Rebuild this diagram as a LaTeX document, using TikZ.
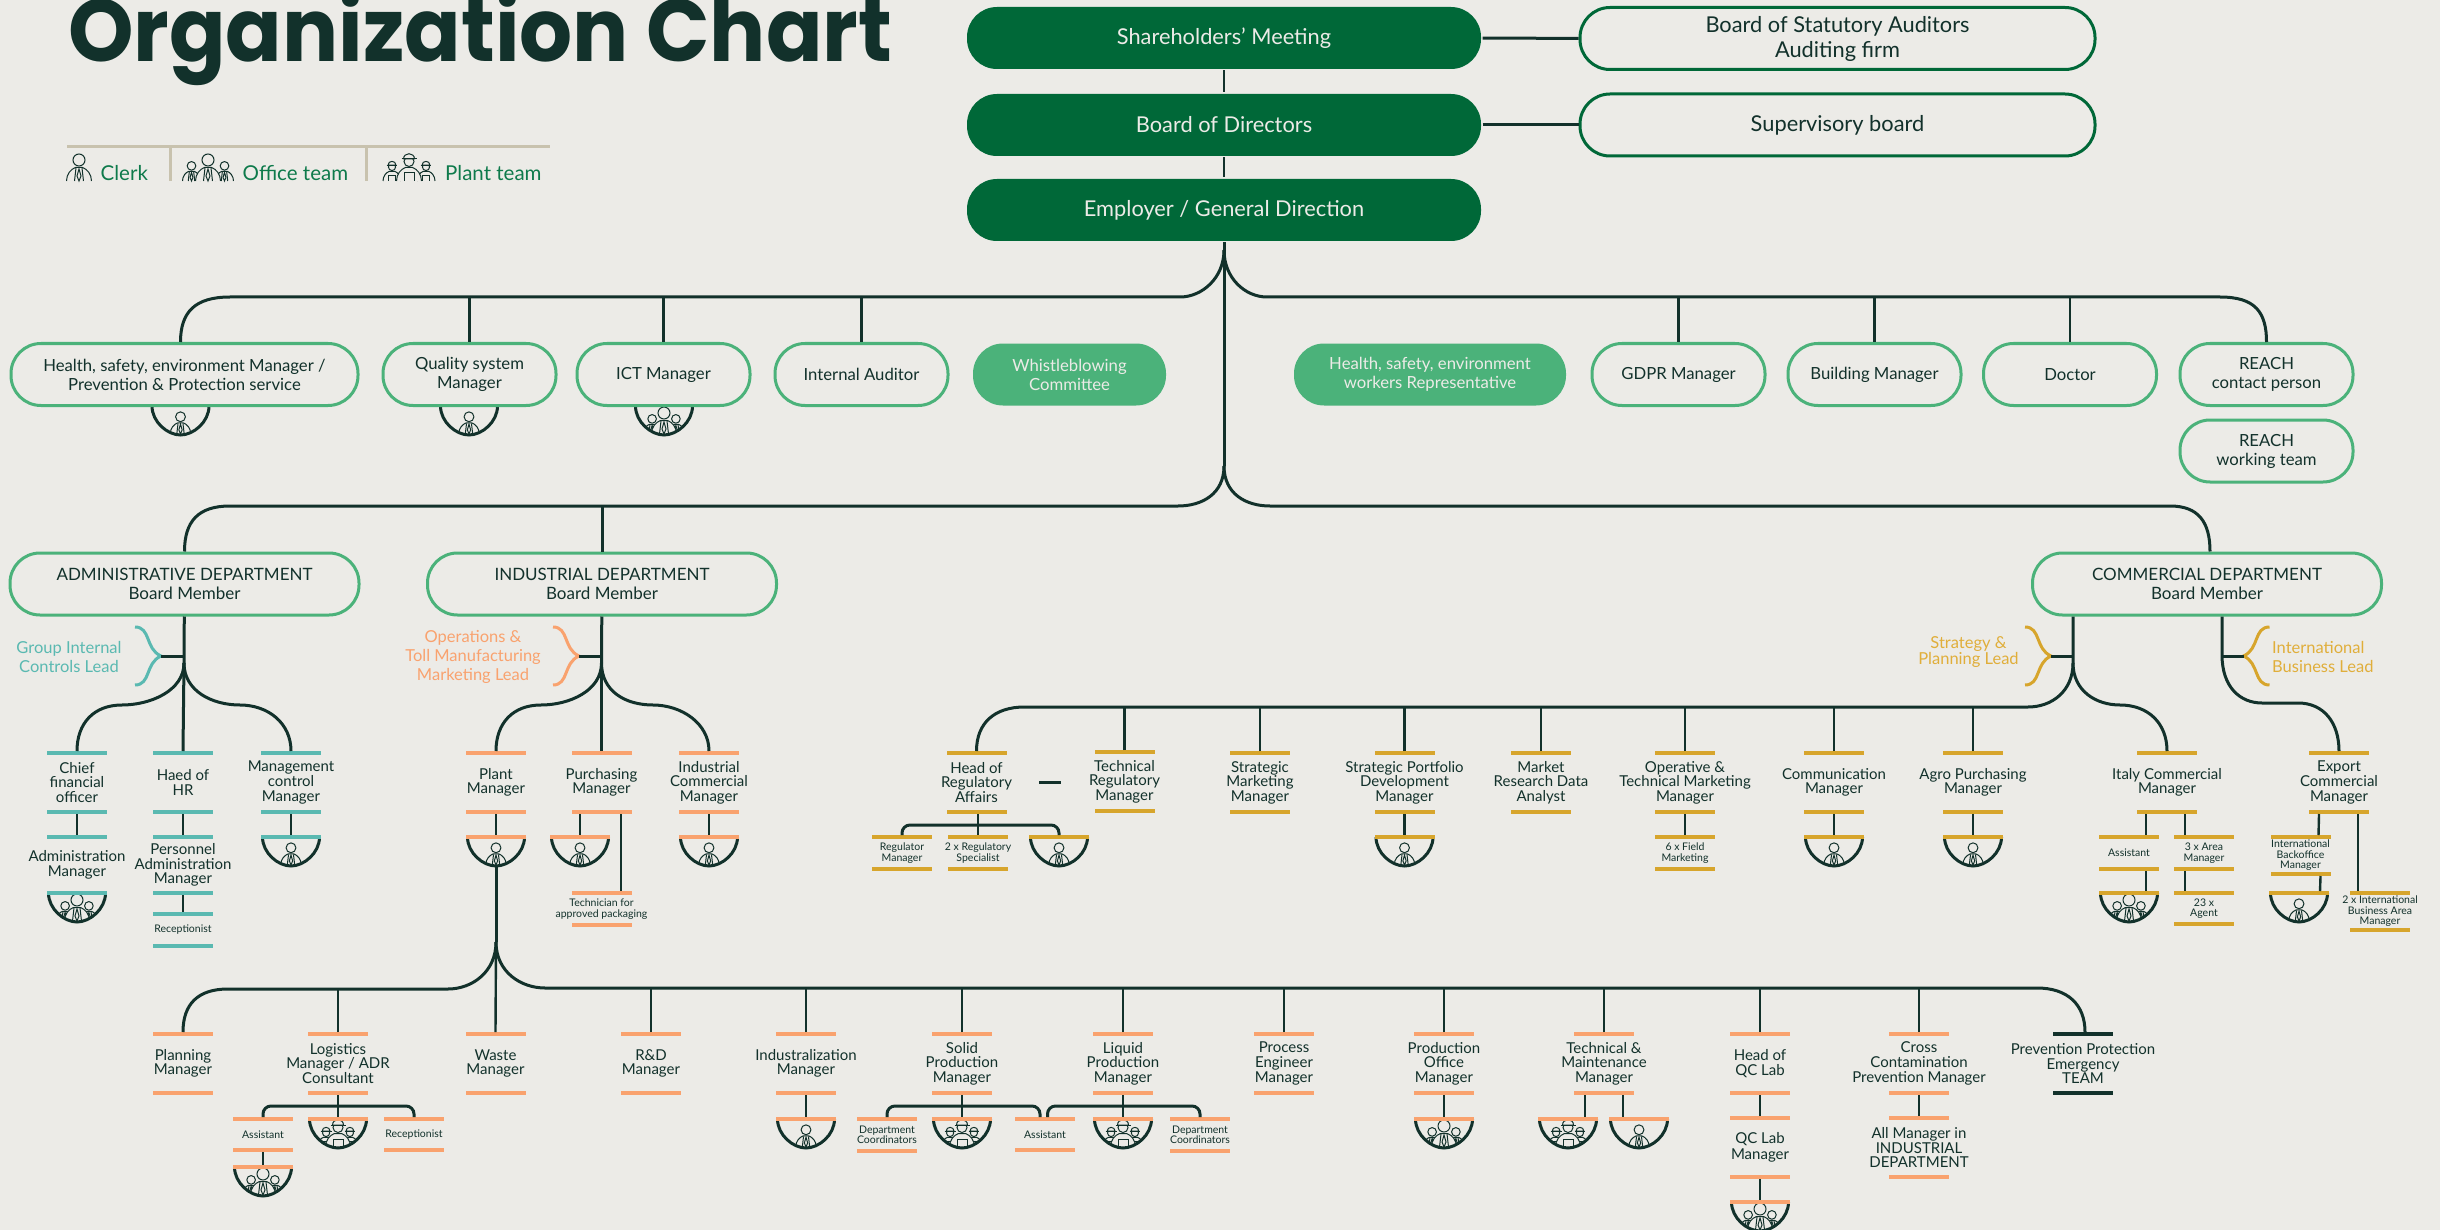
\documentclass[tikz,border=0pt]{standalone}
\usepackage{fontspec}
\setmainfont{Lato}
\newfontfamily\titlefont{Poppins}[FakeStretch=.947]
\definecolor{paper}{HTML}{ECEBE7}
\definecolor{ink}{HTML}{12312B}
\definecolor{forest}{HTML}{006838}
\definecolor{mint}{HTML}{4BB27A}
\definecolor{tealb}{HTML}{5AB9B1}
\definecolor{peach}{HTML}{F9A26E}
\definecolor{goldb}{HTML}{D7A52C}
\definecolor{goldt}{HTML}{E0AE3A}
\definecolor{tan}{HTML}{C8C2AE}
\definecolor{legt}{HTML}{0E7A4B}
\tikzset{
  wire/.style={draw=ink,line width=3pt},
  twig/.style={draw=ink,line width=2.4pt},
  ico/.style={draw=ink,fill=paper,line width=1pt},
  pill/.style={rectangle,rounded corners=30pt,minimum height=62pt,inner sep=0pt,align=center,text=ink,
    line width=3pt,font=\fontsize{16.7}{19}\selectfont},
  mintbox/.style={pill,draw=mint},
  mintfill/.style={pill,fill=mint,text=paper},
  topbox/.style={pill,fill=forest,text=paper,minimum width=514pt,font=\fontsize{21.8}{25}\selectfont},
  sidebox/.style={pill,draw=forest,minimum width=515pt,font=\fontsize{21.8}{25}\selectfont},
  deptbox/.style={mintbox,minimum width=349pt,font=\fontsize{17}{19}\selectfont},
  lvlbox/.style={mintbox,minimum width=173pt},
  bar/.style={rectangle,minimum width=60pt,minimum height=4pt,inner sep=0pt,outer sep=0pt},
  tbar/.style={bar,fill=tealb},
  obar/.style={bar,fill=peach},
  gbar/.style={bar,fill=goldb},
  dbar/.style={bar,fill=ink},
  lbl/.style={inner sep=0pt,align=center,text=ink,font=\fontsize{15}{14.6}\selectfont},
  lblsm/.style={inner sep=0pt,align=center,text=ink,font=\fontsize{10.5}{10.5}\selectfont},
  lead/.style={inner sep=0pt,align=center,font=\fontsize{16.5}{19}\selectfont},
  legtxt/.style={anchor=base west,inner sep=0pt,text=legt,font=\fontsize{20.5}{20}\selectfont},
  person/.pic={
    \draw[ico] (-12.5,0) .. controls (-12.5,-7) and (-8,-12) .. (-3.5,-13.5) -- (3.5,-13.5)
      .. controls (8,-12) and (12.5,-7) .. (12.5,0);
    \draw[ico,fill=none] (-4.5,0) -- (-3,-13) (4.5,0) -- (3,-13);
    \draw[ico,fill=none] (0,-12) -- (-2,-5) -- (0,0) -- (2,-5) -- cycle;
    \draw[ico] (0,-21) circle (6);
  },
  worker/.pic={
    \draw[ico] (-12.5,0) .. controls (-12.5,-7) and (-8,-12) .. (-3.5,-13.5) -- (3.5,-13.5)
      .. controls (8,-12) and (12.5,-7) .. (12.5,0);
    \draw[ico,fill=none] (-5,0) -- (-5,-8) -- (5,-8) -- (5,0);
    \draw[ico] (0,-19.5) circle (5);
    \draw[ico] (-5.5,-22) .. controls (-5.5,-29) and (5.5,-29) .. (5.5,-22) -- cycle;
    \draw[ico,fill=none] (-7.5,-22) -- (7.5,-22);
  },
  officeteam/.pic={
    \pic[scale=.72] at (-16.5,0) {person};
    \pic[scale=.72] at (16.5,0) {person};
    \pic at (0,0) {person};
  },
  plantteam/.pic={
    \pic[scale=.72] at (-17,0) {worker};
    \pic[scale=.72] at (17,0) {worker};
    \pic at (0,0) {worker};
  },
  brace/.pic={
    \draw[line width=3pt] (-26,-29) .. controls (-10,-29) and (-16,-7) .. (0,0)
      .. controls (-16,7) and (-10,29) .. (-26,29);
  },
}
% bar style, name, x, top, bottom, text between the two bars
\newcommand{\role}[7][lbl]{
  \node[#2] (#3a) at (#4,#5) {};
  \node[#2] (#3b) at (#4,#6) {};
  \node[#1] (#3t) at (#4,{(#5+#6)/2}) {#7};
}
% x, y, icon, icon scale
\newcommand{\bowlicon}[4]{
  \begin{scope}
    \clip (#1-28.5,#2) .. controls +(0,16) and +(-13,0) .. (#1,#2+29)
      .. controls +(13,0) and +(0,16) .. (#1+28.5,#2) -- cycle;
    \pic[scale=#4] at (#1,#2+28) {#3};
  \end{scope}
  \draw[wire] (#1-28.5,#2) .. controls +(0,16) and +(-13,0) .. (#1,#2+29)
    .. controls +(13,0) and +(0,16) .. (#1+28.5,#2);
}
% name, x, y, bar style, icon, icon scale
\newcommand{\bowlat}[6]{
  \bowlicon{#2}{#3}{#5}{#6}
  \node[#4] (#1) at (#2,#3) {};
}
\begin{document}
\begin{tikzpicture}[x=1pt,y=-1pt]
\useasboundingbox (0,0) rectangle (2440,1230);
\fill[paper] (0,0) rectangle (2440,1230);
% Title and legend
\node[anchor=base west,inner sep=0pt,text=ink,font=\titlefont\bfseries\fontsize{88}{88}\selectfont] (title) at (68,62) {Organization Chart};
\coordinate (legA) at (67,147);
\coordinate (legB) at (550,147);
\coordinate (legC) at (170.5,147);
\coordinate (legD) at (366,147);
\draw[tan,line width=3pt] (legA) -- (legB);
\draw[tan,line width=3pt] (legC) -- +(0,34);
\draw[tan,line width=3pt] (legD) -- +(0,34);
\pic at (79,181) {person};
\pic at (208,181) {officeteam};
\pic at (409,181) {plantteam};
\node[legtxt] (legclerk) at (100.5,181) {Clerk};
\node[legtxt] (legoffice) at (242.5,181) {Office team};
\node[legtxt] (legplant) at (445,181) {Plant team};
% Top of the chart
\node[topbox] (sha) at (1224,38) {Shareholders' Meeting};
\node[topbox] (bod) at (1224,125) {Board of Directors};
\node[topbox] (emp) at (1224,210) {Employer / General Direction};
\node[sidebox] (aud) at (1837.5,38.5) {Board of Statutory Auditors\\Auditing firm};
\node[sidebox] (sup) at (1837.5,125) {Supervisory board};
\draw[wire] (sha) -- (aud);
\draw[wire] (bod) -- (sup);
\draw[twig] (sha) -- (bod);
\draw[twig] (bod) -- (emp);
% Staff functions
\bowlicon{180.5}{406}{person}{.82}
\bowlicon{469}{406}{person}{.82}
\bowlicon{664}{406}{officeteam}{.72}
\node[mintbox,minimum width=347pt] (hsm) at (184.5,374.5) {Health, safety, environment Manager /\\Prevention \& Protection service};
\node[lvlbox] (qsm) at (469.5,374.5) {\fontsize{16.7}{22}\selectfont Quality system\\Manager};
\node[lvlbox] (ict) at (663.5,374.5) {ICT Manager};
\node[lvlbox] (iau) at (861.5,374.5) {Internal Auditor};
\node[mintfill,minimum width=193pt] (wbc) at (1069.5,374.5) {Whistleblowing\\Committee};
\node[mintfill,minimum width=272pt] (hsr) at (1430,374.5) {Health, safety, environment\\workers Representative};
\node[lvlbox] (gdp) at (1678.5,374.5) {GDPR Manager};
\node[lvlbox] (bld) at (1874.5,374.5) {Building Manager};
\node[lvlbox] (doc) at (2070,374.5) {Doctor};
\node[lvlbox] (rec) at (2266.5,374.5) {REACH\\contact person};
\node[lvlbox] (rew) at (2266.5,451) {REACH\\working team};
\coordinate (forkA) at (1224,250);
\coordinate (busAl) at (1180,297);
\coordinate (busAr) at (1267,297);
\draw[wire] (emp) -- (forkA);
\draw[wire] (forkA) .. controls +(0,28) and +(22,0) .. (busAl) -- (230,297)
  .. controls +(-35,0) and +(0,-30) .. ([xshift=-4pt]hsm.north);
\draw[wire] (forkA) .. controls +(0,28) and +(-22,0) .. (busAr) -- (2220,297)
  .. controls +(35,0) and +(0,-30) .. (rec.north);
\foreach \nm in {qsm,ict,iau,gdp,bld,doc}
  \draw[twig] (\nm.north) -- (\nm.north |- busAl);
% Departments
\node[deptbox] (adm) at (184.5,584) {ADMINISTRATIVE DEPARTMENT\\Board Member};
\node[deptbox] (ind) at (602,584) {INDUSTRIAL DEPARTMENT\\Board Member};
\node[deptbox] (cmr) at (2207,584) {COMMERCIAL DEPARTMENT\\Board Member};
\coordinate (forkB) at (1224,466);
\coordinate (busBl) at (1178,506);
\coordinate (busBr) at (1270,506);
\draw[wire] (forkA) -- (forkB);
\draw[wire] (forkB) .. controls +(0,28) and +(24,0) .. (busBl) -- (230,506)
  .. controls +(-32,0) and +(0,-30) .. (adm.north);
\draw[wire] (forkB) .. controls +(0,28) and +(-24,0) .. (busBr) -- (2170,506)
  .. controls +(28,0) and +(0,-30) .. ([xshift=3pt]cmr.north);
\draw[wire] (ind.north) -- (ind.north |- busBl);
% Administrative department
\role{tbar}{cfo}{77}{753}{812}{Chief\\financial\\officer}
\role{tbar}{adr}{77}{837}{893}{Administration\\Manager}
\bowlat{adrq}{77}{893}{tbar}{officeteam}{.72}
\role{tbar}{hrd}{183}{753}{812}{Haed of\\HR}
\role{tbar}{pam}{183}{837}{893}{Personnel\\Administration\\Manager}
\role[lblsm]{tbar}{rcp}{183}{914}{946}{Receptionist}
\role{tbar}{mcm}{291}{753}{812}{Management\\control\\Manager}
\bowlat{mcmq}{291}{837}{tbar}{person}{.82}
\draw[twig] (cfob) -- (adra);
\draw[twig] (hrdb) -- (pama);
\draw[twig] (pamb) -- (rcpa);
\draw[twig] (mcmb) -- (mcmq);
\coordinate (stemA) at (184,663);
\draw[wire] (adm) -- (stemA) .. controls +(0,28) and +(28,0) .. (122,705)
  .. controls +(-28,0) and +(0,-28) .. (cfoa.north);
\draw[wire] (stemA) -- (hrda.north);
\draw[wire] (stemA) .. controls +(0,28) and +(-28,0) .. (240,705)
  .. controls +(28,0) and +(0,-28) .. (mcma.north);
\pic[color=tealb] at (161,656) {brace};
\draw[wire] (161,656) -- (stemA |- 161,656);
\node[lead,text=tealb] (gil) at (69,657) {Group Internal\\Controls Lead};
% Industrial department
\role{obar}{plm}{496}{753}{812}{Plant\\Manager}
\bowlat{plmq}{496}{837}{obar}{person}{.82}
\role{obar}{pur}{601.5}{753}{812}{Purchasing\\Manager}
\bowlat{purq}{580}{837}{obar}{person}{.82}
\role[lblsm]{obar}{tec}{601.5}{893}{925}{Technician for\\approved  packaging}
\role{obar}{icm}{709}{753}{812}{Industrial\\Commercial\\Manager}
\bowlat{icmq}{709}{837}{obar}{person}{.82}
\draw[twig] (plmb) -- (plmq);
\draw[twig] (purq.north |- purb.south) -- (purq.north);
\draw[twig] ([xshift=19.5pt]purb.south) -- ([xshift=19.5pt]teca.north);
\draw[twig] (icmb) -- (icmq);
\coordinate (stemB) at (601.5,663);
\draw[wire] (ind) -- (stemB) .. controls +(0,28) and +(28,0) .. (541,705)
  .. controls +(-28,0) and +(0,-28) .. (plma.north);
\draw[wire] (stemB) -- (pura.north);
\draw[wire] (stemB) .. controls +(0,28) and +(-28,0) .. (653,705)
  .. controls +(28,0) and +(0,-28) .. (icma.north);
\pic[color=peach] at (579,656) {brace};
\draw[wire] (579,656) -- (stemB |- 579,656);
\node[lead,text=peach,font=\fontsize{16.5}{18.6}\selectfont] (otl) at (473,657) {Operations \&\\Toll Manufacturing\\Marketing Lead};
% Commercial department
\coordinate (stemC) at ([xshift=-134pt]cmr.south |- 0,663);
\coordinate (stemD) at ([xshift=15pt]cmr.south |- 0,655);
\role{gbar}{hra}{976.5}{753}{812}{Head of\\Regulatory\\Affairs}
\role[lblsm]{gbar}{rgm}{902}{837}{869}{Regulator\\Manager}
\role[lblsm]{gbar}{rgs}{978}{837}{869}{2 x Regulatory\\Specialist}
\bowlat{hraq}{1059}{837}{gbar}{person}{.82}
\coordinate (subR) at (978,825);
\draw[wire,rounded corners=8pt] (rgma.north) |- (subR) -| (hraq.north);
\draw[twig] (rgsa.north |- hrab.south) -- (rgsa.north);
\coordinate (dashA) at (1039,782);
\coordinate (dashB) at (1061,782);
\draw[wire] (dashA) -- (dashB);
\role{gbar}{trm}{1124.5}{752}{811}{Technical\\Regulatory\\Manager}
\role{gbar}{smm}{1260}{753}{812}{Strategic\\Marketing\\Manager}
\role{gbar}{spd}{1404.5}{753}{812}{Strategic Portfolio\\Development\\Manager}
\bowlat{spdq}{1404.5}{837}{gbar}{person}{.82}
\role{gbar}{mrd}{1541}{753}{812}{Market\\Research Data\\Analyst}
\role{gbar}{otm}{1685}{753}{812}{Operative \&\\Technical Marketing\\Manager}
\role[lblsm]{gbar}{ffm}{1685}{837}{869}{6 x Field\\Marketing}
\role{gbar}{com}{1834}{753}{812}{Communication\\Manager}
\bowlat{comq}{1834}{837}{gbar}{person}{.82}
\role{gbar}{apm}{1973}{753}{812}{Agro Purchasing\\Manager}
\bowlat{apmq}{1973}{837}{gbar}{person}{.82}
\role{gbar}{itc}{2167}{753}{812}{Italy Commercial\\Manager}
\role[lblsm]{gbar}{ita}{2129}{837}{869}{Assistant}
\role[lblsm]{gbar}{iar}{2204}{837}{869}{3 x Area\\Manager}
\bowlat{itaq}{2129}{893}{gbar}{officeteam}{.72}
\role[lblsm]{gbar}{agt}{2204}{893}{924}{23 x\\Agent}
\role{gbar}{exc}{2339}{753}{812}{Export\\Commercial\\Manager}
\role[lblsm]{gbar}{ibm}{2300.5}{837}{874}{International\\Backoffice\\Manager}
\bowlat{ibmq}{2299}{893}{gbar}{person}{.82}
\role[lblsm]{gbar}{iba}{2380}{893}{930}{2 x International\\Business Area\\Manager}
\draw[twig] (spdb) -- (spdq);
\draw[twig] (otmb) -- (ffma);
\draw[twig] (comb) -- (comq);
\draw[twig] (apmb) -- (apmq);
\draw[twig] ([xshift=-21pt]itcb.south) -- ([xshift=17pt]itaa.north);
\draw[twig] ([xshift=18pt]itcb.south) -- ([xshift=-19pt]iara.north);
\draw[twig] ([xshift=17pt]itab.south) -- ([xshift=17pt]itaq.north);
\draw[twig] ([xshift=-19pt]iarb.south) -- ([xshift=-19pt]agta.north);
\draw[twig] ([xshift=-20pt]excb.south) -- ([xshift=18pt]ibma.north);
\draw[twig] ([xshift=19pt]excb.south) -- ([xshift=-22pt]ibaa.north);
\draw[twig] ([xshift=20pt]ibmb.south) -- ([xshift=21pt]ibmq.north);
\coordinate (busC) at (2028,707);
\draw[wire] ([xshift=-134pt]cmr.south) -- (stemC) .. controls +(0,28) and +(24,0) .. (busC)
  -- (1024.5,707) .. controls +(-30,0) and +(0,-28) .. (hraa.north);
\draw[wire] (stemC) .. controls +(0,28) and +(-24,0) .. (2120,705)
  .. controls +(28,0) and +(0,-28) .. (itca.north);
\draw[wire] ([xshift=15pt]cmr.south) -- (stemD) .. controls +(0,32) and +(-22,0) .. (2262,703)
  -- (2298,703) .. controls +(26,0) and +(0,-28) .. (exca.north);
\foreach \nm in {trm,smm,spd,mrd,otm,com,apm}
  \draw[twig] (\nm a.north) -- (\nm a.north |- busC);
\pic[color=goldb] at (2051,656) {brace};
\pic[color=goldb,xscale=-1] at (2243.5,656) {brace};
\draw[wire] (2051,656) -- (stemC |- 2051,656);
\draw[wire] (2243.5,656) -- (stemD |- 2243.5,656);
\node[lead,text=goldt,font=\fontsize{16.5}{15.6}\selectfont] (spl) at (1968.5,652) {Strategy \&\\Planning Lead};
\node[lead,text=goldt,anchor=west,align=left] (ibl) at (2272,657) {International\\Business Lead};
% Plant Manager reports
\role{obar}{pln}{183}{1034}{1093}{Planning\\Manager}
\role{obar}{lgs}{338}{1034}{1093}{Logistics\\Manager / ADR\\Consultant}
\bowlat{lgsq}{338}{1119}{obar}{plantteam}{.7}
\role[lblsm]{obar}{las}{263}{1119}{1150}{Assistant}
\bowlat{lasq}{263}{1167}{obar}{officeteam}{.72}
\role[lblsm]{obar}{lrc}{414}{1119}{1150}{Receptionist}
\role{obar}{wst}{495.5}{1034}{1093}{Waste\\Manager}
\role{obar}{rnd}{651}{1034}{1093}{R\&D\\Manager}
\role{obar}{idz}{806}{1034}{1093}{Industralization\\Manager}
\bowlat{idzq}{806}{1119}{obar}{person}{.82}
\role{obar}{sol}{962}{1034}{1093}{Solid\\Production\\Manager}
\role[lblsm]{obar}{dca}{887}{1119}{1151}{Department\\Coordinators}
\bowlat{solq}{962}{1119}{obar}{plantteam}{.7}
\role[lblsm]{obar}{ast}{1045}{1119}{1150}{Assistant}
\role{obar}{liq}{1123}{1034}{1093}{Liquid\\Production\\Manager}
\bowlat{liqq}{1123}{1119}{obar}{plantteam}{.7}
\role[lblsm]{obar}{dcb}{1200}{1119}{1151}{Department\\Coordinators}
\role{obar}{prc}{1284}{1034}{1093}{Process\\Engineer\\Manager}
\role{obar}{pof}{1444}{1034}{1093}{Production\\Office\\Manager}
\bowlat{pofq}{1444}{1119}{obar}{officeteam}{.72}
\role{obar}{tmm}{1604}{1034}{1093}{Technical \&\\Maintenance\\Manager}
\bowlat{tmmq}{1568}{1119}{obar}{plantteam}{.7}
\bowlat{tmmr}{1639}{1119}{obar}{person}{.82}
\role{obar}{qch}{1760}{1034}{1093}{Head of\\QC Lab}
\role{obar}{qcm}{1760}{1118}{1177}{QC Lab\\[2pt]Manager}
\bowlat{qcmq}{1760}{1202}{obar}{officeteam}{.72}
\role{obar}{ccm}{1919}{1034}{1093}{Cross\\Contamination\\Prevention Manager}
\role{obar}{amg}{1919}{1118}{1177}{All Manager in\\INDUSTRIAL\\DEPARTMENT}
\role{dbar}{ppe}{2083}{1034}{1093}{Prevention Protection\\Emergency\\TEAM}
\draw[twig] (lgsb) -- (lgsq);
\draw[twig] (lasb) -- (lasq);
\draw[twig] (idzb) -- (idzq);
\draw[twig] (solb) -- (solq);
\draw[twig] (liqb) -- (liqq);
\draw[twig] (pofb) -- (pofq);
\draw[twig] ([xshift=-19pt]tmmb.south) -- ([xshift=17pt]tmmq.north);
\draw[twig] ([xshift=19pt]tmmb.south) -- ([xshift=-16pt]tmmr.north);
\draw[twig] (qchb) -- (qcma);
\draw[twig] (qcmb) -- (qcmq);
\draw[twig] (ccmb) -- (amga);
\coordinate (subL) at (338,1106);
\coordinate (subS) at (962,1106);
\coordinate (subQ) at (1123,1106);
\draw[wire,rounded corners=8pt] (lasa.north) |- (subL) -| (lrca.north);
\draw[wire,rounded corners=8pt] (dcaa.north) |- (subS) -| ([xshift=-5pt]asta.north);
\draw[wire,rounded corners=8pt] ([xshift=2.5pt]asta.north) |- (subQ) -| (dcba.north);
\coordinate (forkC) at (496,942);
\coordinate (busCl) at (448,989);
\coordinate (busCr) at (545,988);
\draw[wire] ([yshift=-29pt]plmq.center) -- (forkC);
\draw[wire] (forkC) .. controls +(0,30) and +(24,0) .. (busCl) -- (228,989)
  .. controls +(-30,0) and +(0,-28) .. (plna.north);
\draw[wire] (forkC) .. controls +(0,30) and +(-24,0) .. (busCr) -- (2037,988)
  .. controls +(30,0) and +(0,-28) .. ([xshift=2pt]ppea.north);
\draw[twig] (forkC) -- (wsta.north);
\foreach \nm in {lgs,rnd,idz,sol,liq,prc,pof,tmm,qch,ccm}
  \draw[twig] (\nm a.north) -- (\nm a.north |- busCr);
\end{tikzpicture}
\end{document}
